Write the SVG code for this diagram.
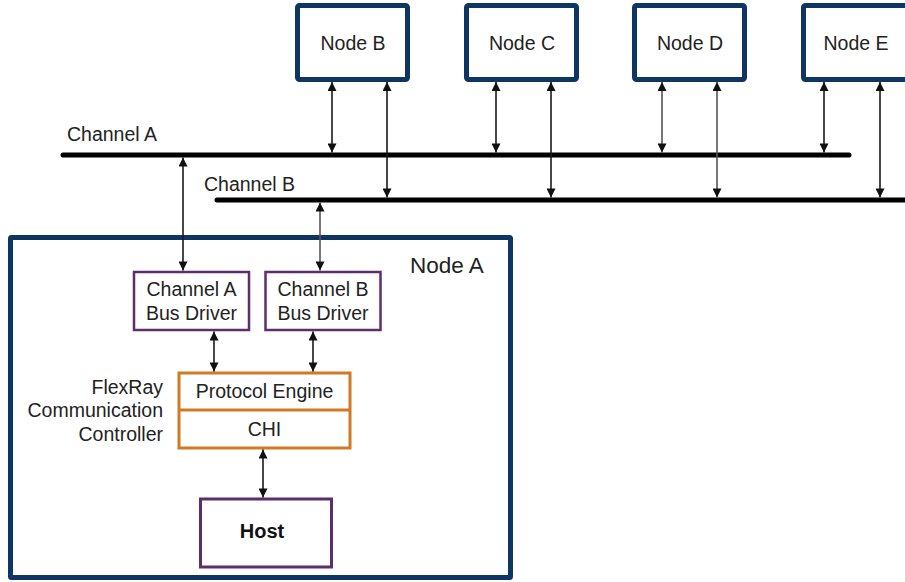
<svg xmlns="http://www.w3.org/2000/svg" width="905" height="582" viewBox="0 0 905 582">
  <style>
    text { font-family: "Liberation Sans", Arial, sans-serif; fill: #222; }
    .lbl { font-size: 19.5px; }
    .mid { text-anchor: middle; }
    .node { fill: #fff; stroke: #0f3563; stroke-width: 5; }
    .drv { fill: #fff; stroke: #5e2d6e; stroke-width: 2.5; }
    .cc { fill: #fff; stroke: #cf7a24; stroke-width: 3; }
    .bus { stroke: #000; stroke-width: 5; stroke-linecap: round; fill: none; }
    .link { stroke: #1a1a1a; stroke-width: 1.6; fill: none; marker-start: url(#tip); marker-end: url(#tip); }
    .link.grey { stroke: #555; }
  </style>
  <defs>
    <marker id="tip" viewBox="0 0 10 10" refX="10" refY="5" markerWidth="10" markerHeight="9" markerUnits="userSpaceOnUse" orient="auto-start-reverse">
      <path d="M0,0 L10,5 L0,10 z" fill="#111"/>
    </marker>
  </defs>

  <rect width="905" height="582" fill="#fff"/>

  <!-- Node A enclosure -->
  <g id="node-a">
    <rect class="node" x="10.5" y="237.5" width="500" height="340" rx="1"/>
    <text x="410" y="273" style="font-size:22.5px">Node A</text>
  </g>

  <!-- Buses -->
  <g id="buses">
    <line class="bus" x1="63" y1="155" x2="849" y2="155"/>
    <line class="bus" x1="217" y1="200" x2="910" y2="200"/>
    <text class="lbl" x="67" y="141">Channel A</text>
    <text class="lbl" x="204" y="191">Channel B</text>
  </g>

  <!-- Remote nodes -->
  <g id="node-b">
    <rect class="node" x="297.5" y="5.5" width="110" height="74" rx="2"/>
    <text class="lbl mid" x="353" y="50">Node B</text>
  </g>
  <g id="node-c">
    <rect class="node" x="466.5" y="5.5" width="110" height="74" rx="2"/>
    <text class="lbl mid" x="522" y="50">Node C</text>
  </g>
  <g id="node-d">
    <rect class="node" x="634.5" y="5.5" width="110" height="74" rx="2"/>
    <text class="lbl mid" x="690" y="50">Node D</text>
  </g>
  <g id="node-e">
    <rect class="node" x="803.5" y="5.5" width="115" height="74" rx="2"/>
    <text class="lbl mid" x="856" y="50">Node E</text>
  </g>

  <!-- Node A internals -->
  <g id="driver-a">
    <rect class="drv" x="134" y="272" width="115" height="58"/>
    <text class="lbl mid" x="191.5" y="296">Channel A</text>
    <text class="lbl mid" x="191.5" y="320">Bus Driver</text>
  </g>
  <g id="driver-b">
    <rect class="drv" x="265.5" y="272" width="115" height="58"/>
    <text class="lbl mid" x="323" y="296">Channel B</text>
    <text class="lbl mid" x="323" y="320">Bus Driver</text>
  </g>
  <g id="controller">
    <rect class="cc" x="179" y="373" width="171" height="75"/>
    <line x1="179" y1="410" x2="350" y2="410" stroke="#cf7a24" stroke-width="3"/>
    <text class="lbl mid" x="264.5" y="398">Protocol Engine</text>
    <text class="lbl mid" x="264.5" y="436">CHI</text>
    <text class="lbl" x="163" y="394" text-anchor="end">FlexRay</text>
    <text class="lbl" x="163" y="417" text-anchor="end">Communication</text>
    <text class="lbl" x="163" y="441" text-anchor="end">Controller</text>
  </g>
  <g id="host">
    <rect x="200.5" y="499" width="131" height="68" fill="#fff" stroke="#5e2d6e" stroke-width="3"/>
    <text class="mid" x="262" y="538" style="font-size:20px;font-weight:bold;fill:#111">Host</text>
  </g>

  <!-- Connectors -->
  <g id="connectors">
    <line class="link" x1="332" y1="82" x2="332" y2="152.5"/>
    <line class="link" x1="387" y1="82" x2="387" y2="197.5"/>
    <line class="link" x1="496" y1="82" x2="496" y2="152.5"/>
    <line class="link" x1="551" y1="82" x2="551" y2="197.5"/>
    <line class="link grey" x1="662" y1="82" x2="662" y2="152.5"/>
    <line class="link grey" x1="717" y1="82" x2="717" y2="197.5"/>
    <line class="link" x1="824" y1="82" x2="824" y2="152.5"/>
    <line class="link" x1="880" y1="82" x2="880" y2="197.5"/>
    <line class="link" x1="183" y1="157.5" x2="183" y2="270.5"/>
    <line class="link grey" x1="320" y1="202.5" x2="320" y2="270.5"/>
    <line class="link" x1="214" y1="331.5" x2="214" y2="371.5"/>
    <line class="link" x1="313" y1="331.5" x2="313" y2="371.5"/>
    <line class="link" x1="263" y1="449.5" x2="263" y2="497.5"/>
  </g>
</svg>
